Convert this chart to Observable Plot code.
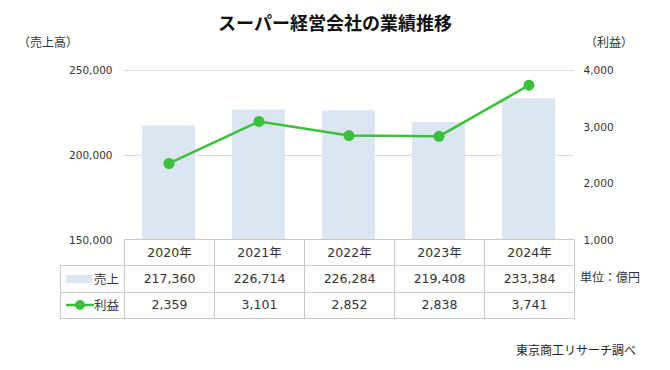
<!DOCTYPE html>
<html><head><meta charset="utf-8">
<script src="https://cdn.jsdelivr.net/npm/d3@7"></script>
<script src="https://cdn.jsdelivr.net/npm/@observablehq/plot@0.6"></script>
<style>
html,body{margin:0;padding:0;background:#fff;}
#wrap{position:relative;width:670px;height:370px;overflow:hidden;font-family:"Noto Sans CJK JP","DejaVu Sans",sans-serif;color:#222;background:#fff;}
#chart{position:absolute;left:0;top:0;}
.abs{position:absolute;white-space:nowrap;}
#title{left:0;width:670px;top:9px;text-align:center;font-weight:bold;font-size:18px;line-height:26px;color:#111;}
#ly{left:18px;top:34px;font-size:12px;line-height:16px;color:#333;}
#ry{left:585px;top:34px;font-size:12px;line-height:16px;color:#333;}
#unit{left:580px;top:269px;font-size:12px;line-height:16px;color:#333;}
#cap{right:34px;top:342px;font-size:12px;line-height:16px;color:#222;}
#tbl{position:absolute;left:60px;top:239px;border-collapse:collapse;table-layout:fixed;font-size:12.5px;color:#333;}
#tbl td{border:1px solid #c8c8c8;padding:0;height:25px;line-height:16px;text-align:center;white-space:nowrap;font-family:"DejaVu Sans","Noto Sans CJK JP",sans-serif;}
#tbl tr.body td{height:25.5px;}
#tbl td.blank{border-top:none;border-left:none;}
#tbl td.lab{font-family:"Noto Sans CJK JP",sans-serif;font-size:12.5px;}
.labwrap{display:flex;justify-content:space-between;align-items:center;padding:0 5px 0 5px;}
.labwrap svg{display:block;}
</style></head>
<body>
<div id="wrap">
  <div id="chart"></div>
  <div id="title" class="abs"></div>
  <div id="ly" class="abs"></div>
  <div id="ry" class="abs"></div>
  <div id="unit" class="abs"></div>
  <div id="cap" class="abs"></div>
  <table id="tbl"></table>
</div>
<script>
const titleText = "スーパー経営会社の業績推移";
const leftTitle = "（売上高）";
const rightTitle = "（利益）";
const unitText = "単位：億円";
const captionText = "東京商工リサーチ調べ";
const years = ["2020年","2021年","2022年","2023年","2024年"];
const sales = [217360, 226714, 226284, 219408, 233384];
const profit = [2359, 3101, 2852, 2838, 3741];
const seriesNames = ["売上", "利益"];
const salesTicks = [150000, 200000, 250000];
const gridTicks = [200000, 250000];
const profitTicks = [1000, 2000, 3000, 4000];
const salesDomain = [150000, 250000];
const profitDomain = [1000, 4000];

const barColor = "#dce6f2";
const lineColor = "#3cbf3a";

const toS = p => salesDomain[0] + (p - profitDomain[0]) * (salesDomain[1] - salesDomain[0]) / (profitDomain[1] - profitDomain[0]);
const toP = s => profitDomain[0] + (s - salesDomain[0]) * (profitDomain[1] - profitDomain[0]) / (salesDomain[1] - salesDomain[0]);
const fmt = d3.format(",");

const data = years.map((y, i) => ({year: y, sales: sales[i], profit: profit[i], py: toS(profit[i])}));

const chart = Plot.plot({
  width: 670, height: 370,
  marginTop: 70, marginBottom: 130, marginLeft: 124, marginRight: 96,
  style: {fontFamily: '"DejaVu Sans", sans-serif', fontSize: "10.5px", color: "#333", background: "transparent"},
  x: {type: "band", domain: years, paddingInner: 0.41, paddingOuter: 0.205, axis: null},
  y: {domain: salesDomain, axis: null},
  marks: [
    Plot.ruleY(gridTicks, {stroke: "#d9d9d9", strokeWidth: 1}),
    Plot.barY(data, {x: "year", y: "sales", fill: barColor, clip: true}),
    Plot.axisY(salesTicks, {anchor: "left", tickSize: 0, tickPadding: 12, tickFormat: fmt, label: null, fill: "#333"}),
    Plot.axisY(profitTicks.map(toS), {anchor: "right", tickSize: 0, tickPadding: 9, tickFormat: v => fmt(Math.round(toP(v))), label: null, fill: "#333"}),
    Plot.line(data, {x: "year", y: "py", stroke: lineColor, strokeWidth: 2.5}),
    Plot.dot(data, {x: "year", y: "py", r: 5.5, fill: lineColor, stroke: "none"})
  ]
});
document.getElementById("chart").appendChild(chart);

document.getElementById("title").textContent = titleText;
document.getElementById("ly").textContent = leftTitle;
document.getElementById("ry").textContent = rightTitle;
document.getElementById("unit").textContent = unitText;
document.getElementById("cap").textContent = captionText;

// table
const tbl = document.getElementById("tbl");
const cg = document.createElement("colgroup");
[64, 90, 90, 90, 90, 90].forEach(w => { const c = document.createElement("col"); c.style.width = w + "px"; cg.appendChild(c); });
tbl.appendChild(cg);
const hdr = document.createElement("tr");
const blank = document.createElement("td"); blank.className = "blank"; hdr.appendChild(blank);
years.forEach(y => { const td = document.createElement("td"); td.textContent = y; hdr.appendChild(td); });
tbl.appendChild(hdr);

const swatches = [
  `<svg width="26" height="12"><rect x="0" y="2" width="26" height="8" fill="${barColor}"/></svg>`,
  `<svg width="28" height="12"><line x1="0" y1="6" x2="28" y2="6" stroke="${lineColor}" stroke-width="2.5"/><circle cx="14" cy="6" r="5" fill="${lineColor}"/></svg>`
];
[sales, profit].forEach((vals, r) => {
  const tr = document.createElement("tr"); tr.className = "body";
  const lab = document.createElement("td"); lab.className = "lab";
  lab.innerHTML = `<div class="labwrap">${swatches[r]}<span>${seriesNames[r]}</span></div>`;
  tr.appendChild(lab);
  vals.forEach(v => { const td = document.createElement("td"); td.textContent = fmt(v); tr.appendChild(td); });
  tbl.appendChild(tr);
});
</script>
</body></html>
